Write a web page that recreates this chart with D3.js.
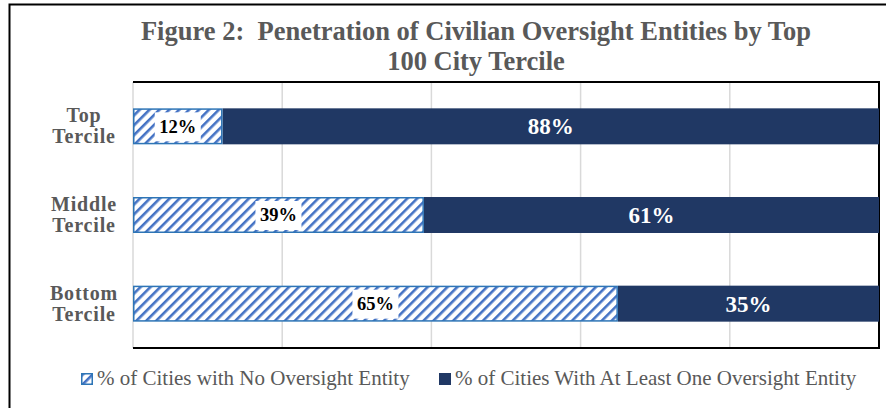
<!DOCTYPE html>
<html>
<head>
<meta charset="utf-8">
<script src="https://cdn.jsdelivr.net/npm/d3@7"></script>
<style>
  body { margin: 0; background: #fff; }
</style>
</head>
<body>
<div id="chart"></div>
<script>
const categories = ["Top Tercile", "Middle Tercile", "Bottom Tercile"];
const noEntity = [12, 39, 65];
const atLeastOne = [88, 61, 35];
const seriesNames = ["% of Cities with No Oversight Entity", "% of Cities With At Least One Oversight Entity"];
const xTicks = [0, 20, 40, 60, 80, 100];

const width = 886, height = 408;
const margin = {top: 82, right: 7, bottom: 60, left: 133};
const blue = "#4472C4", navy = "#203864", grey = "#595959";

const svg = d3.select("#chart").append("svg")
    .attr("width", width)
    .attr("height", height)
    .attr("font-family", "'Liberation Serif', 'Times New Roman', Times, serif");

// hatch for the "no entity" series
const pat = svg.append("defs").append("pattern")
    .attr("id", "hatch")
    .attr("patternUnits", "userSpaceOnUse")
    .attr("width", 7).attr("height", 7)
    .attr("patternTransform", "rotate(45)");
pat.append("rect").attr("width", 7).attr("height", 7).attr("fill", "#fff");
pat.append("rect").attr("width", 2.6).attr("height", 7).attr("fill", blue);

// outer frame
svg.append("path")
    .attr("d", "M9.5," + height + "V4.5H" + width)
    .attr("fill", "none").attr("stroke", "#000").attr("stroke-width", 2);

// title
svg.append("text")
    .attr("x", 476).attr("text-anchor", "middle")
    .attr("font-size", 26.5).attr("font-weight", "bold").attr("fill", grey)
    .selectAll("tspan")
    .data(["Figure 2:\u00a0 Penetration of Civilian Oversight Entities by Top", "100 City Tercile"])
    .join("tspan")
    .attr("x", 476)
    .attr("y", (d, i) => 40 + i * 29.5)
    .text(d => d);

const x = d3.scaleLinear()
    .domain([0, 100])
    .range([margin.left, width - margin.right]);

const y = d3.scaleBand()
    .domain(categories)
    .range([margin.top, height - margin.bottom])
    .paddingInner(0.594)
    .paddingOuter(0.297);

// gridlines
svg.append("g")
    .selectAll("line")
    .data(xTicks)
    .join("line")
    .attr("x1", d => x(d)).attr("x2", d => x(d))
    .attr("y1", margin.top).attr("y2", height - margin.bottom)
    .attr("stroke", "#d9d9d9").attr("stroke-width", 1.5);

// plot frame (top, right, bottom)
svg.append("path")
    .attr("d", "M" + x(0) + "," + margin.top + "H" + x(100) + "V" + (height - margin.bottom) + "H" + x(0))
    .attr("fill", "none").attr("stroke", "#000").attr("stroke-width", 2);

const rows = categories.map((c, i) => ({cat: c, a: noEntity[i], b: atLeastOne[i]}));

const g = svg.append("g");

// dark series
g.selectAll(".bar-b")
    .data(rows)
    .join("rect")
    .attr("class", "bar-b")
    .attr("x", d => x(d.a))
    .attr("width", d => x(d.a + d.b) - x(d.a))
    .attr("y", d => y(d.cat))
    .attr("height", y.bandwidth())
    .attr("fill", navy);

// hatched series
g.selectAll(".bar-a")
    .data(rows)
    .join("rect")
    .attr("class", "bar-a")
    .attr("x", d => x(0) + 0.75)
    .attr("width", d => x(d.a) - x(0) - 1.5)
    .attr("y", d => y(d.cat) + 0.75)
    .attr("height", y.bandwidth() - 1.5)
    .attr("fill", "url(#hatch)")
    .attr("stroke", "#2E75B6").attr("stroke-width", 1.5);

// labels on hatched bars, with white box behind
const la = g.selectAll(".lab-a")
    .data(rows)
    .join("g")
    .attr("class", "lab-a")
    .attr("transform", d => "translate(" + (x(0) + x(d.a)) / 2 + "," + (y(d.cat) + y.bandwidth() / 2) + ")");
la.append("rect")
    .attr("x", -23).attr("y", -14)
    .attr("width", 46).attr("height", 29)
    .attr("fill", "#fff");
la.append("text")
    .attr("text-anchor", "middle").attr("dy", "0.35em")
    .attr("font-size", 18.5).attr("font-weight", "bold").attr("fill", "#000")
    .text(d => d.a + "%");

g.selectAll(".lab-b")
    .data(rows)
    .join("text")
    .attr("class", "lab-b")
    .attr("x", d => (x(d.a) + x(d.a + d.b)) / 2)
    .attr("y", d => y(d.cat) + y.bandwidth() / 2)
    .attr("text-anchor", "middle").attr("dy", "0.35em")
    .attr("font-size", 23).attr("font-weight", "bold").attr("fill", "#fff")
    .text(d => d.b + "%");

// category labels
svg.append("g")
    .selectAll("text")
    .data(categories)
    .join("text")
    .attr("text-anchor", "middle")
    .attr("font-size", 20).attr("font-weight", "bold").attr("fill", grey)
    .attr("letter-spacing", 0.8)
    .selectAll("tspan")
    .data(d => d.split(" ").map(w => ({w, c: d})))
    .join("tspan")
    .attr("x", 84)
    .attr("y", (d, i) => y(d.c) + y.bandwidth() / 2 - 4 + i * 21)
    .text(d => d.w);

// legend
const legend = svg.append("g").attr("font-size", 21).attr("fill", grey);
const legX = [81, 439];
legend.selectAll("rect")
    .data(seriesNames)
    .join("rect")
    .attr("x", (d, i) => legX[i] + 0.75).attr("y", 373.75)
    .attr("width", 10.5).attr("height", 10.5)
    .attr("fill", (d, i) => i ? navy : "url(#hatch)")
    .attr("stroke", (d, i) => i ? navy : "#2E75B6").attr("stroke-width", 1.5);
legend.selectAll("text")
    .data(seriesNames)
    .join("text")
    .attr("x", (d, i) => legX[i] + 16).attr("y", 385)
    .text(d => d);
</script>
</body>
</html>
